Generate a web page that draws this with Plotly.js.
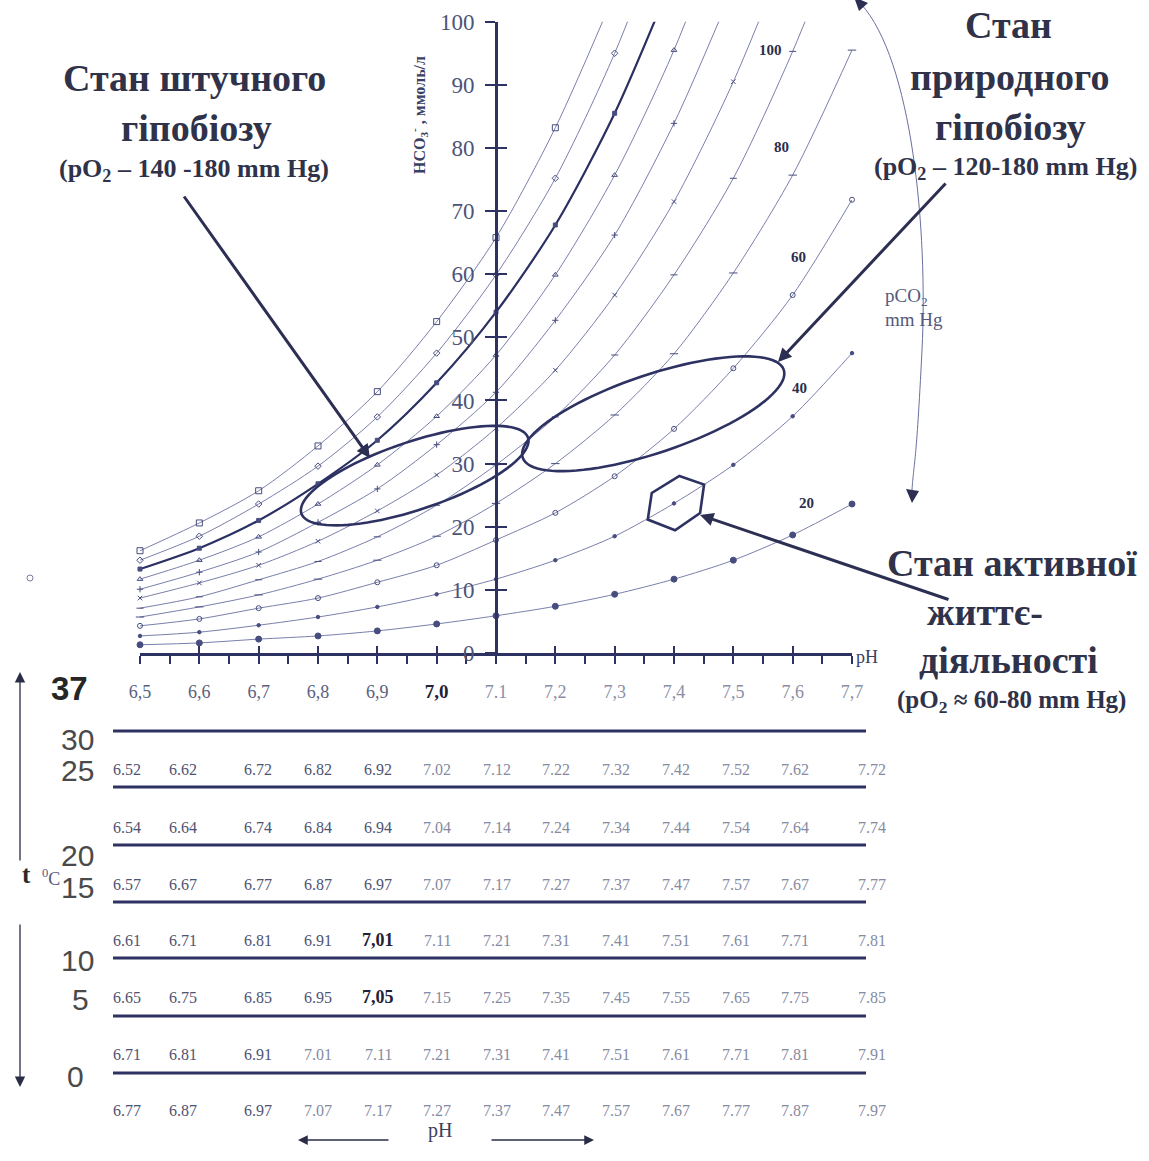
<!DOCTYPE html>
<html><head><meta charset="utf-8">
<script src="https://cdn.plot.ly/plotly-3.0.1.min.js"></script>
<style>html,body{margin:0;padding:0;background:#fff}#chart{width:1149px;height:1161px}</style>
</head><body><div id="chart"></div>
<script>
// ================= DATA =================
const pH = [6.5, 6.6, 6.7, 6.8, 6.9, 7.0, 7.1, 7.2, 7.3, 7.4, 7.5, 7.6, 7.7];
const pCO2 = [20, 40, 60, 80, 100, 120, 140, 160, 180, 200, 220];
// HCO3- (mmol/l) read at each pH step; the last value of the upper isobars lies above 100 (line leaves the frame)
const hco3_20  = [1.3, 1.6, 2.2, 2.7, 3.5, 4.6, 5.9, 7.4, 9.3, 11.7, 14.7, 18.7, 23.6];
const hco3_40  = [2.7, 3.3, 4.4, 5.7, 7.3, 9.3, 11.7, 14.7, 18.5, 23.7, 29.8, 37.5, 47.5];
const hco3_60  = [4.3, 5.4, 7.1, 8.7, 11.2, 13.9, 17.9, 22.2, 28.0, 35.5, 45.1, 56.7, 71.8];
const hco3_80  = [5.7, 7.3, 9.2, 11.7, 14.7, 18.5, 23.7, 30.0, 37.7, 47.4, 60.2, 75.7, 95.5];
const hco3_100 = [7.1, 8.9, 11.6, 14.5, 18.4, 23.4, 29.8, 37.4, 47.2, 59.9, 75.2, 95.3, 119.0];
const hco3_120 = [8.7, 11.1, 13.9, 17.7, 22.5, 28.2, 35.6, 44.8, 56.7, 71.5, 90.5, 113.5];
const hco3_140 = [10.1, 12.8, 16.0, 20.7, 26.0, 33.0, 41.3, 52.7, 66.2, 83.9, 105.5];
const hco3_160 = [11.7, 14.7, 18.4, 23.6, 29.8, 37.5, 47.2, 59.9, 75.7, 95.5, 120.0];
const hco3_180 = [13.3, 16.6, 21.0, 26.8, 33.7, 42.8, 54.0, 67.8, 85.5, 107.5];
const hco3_200 = [14.7, 18.5, 23.6, 29.6, 37.4, 47.5, 59.9, 75.2, 95.0, 119.5];
const hco3_220 = [16.2, 20.6, 25.7, 32.8, 41.4, 52.5, 65.8, 83.2, 104.5];
const isobarLabels = ['20', '40', '60', '80', '100'];

const hco3Ticks = [0, 10, 20, 30, 40, 50, 60, 70, 80, 90, 100];
const pHTickText37 = ['6,5', '6,6', '6,7', '6,8', '6,9', '7,0', '7.1', '7,2', '7,3', '7,4', '7,5', '7,6', '7,7'];

// temperature table
const tempLabels = ['37', '30', '25', '20', '15', '10', '5', '0'];
const pHrow_a = ['6.52','6.62','6.72','6.82','6.92','7.02','7.12','7.22','7.32','7.42','7.52','7.62','7.72'];
const pHrow_b = ['6.54','6.64','6.74','6.84','6.94','7.04','7.14','7.24','7.34','7.44','7.54','7.64','7.74'];
const pHrow_c = ['6.57','6.67','6.77','6.87','6.97','7.07','7.17','7.27','7.37','7.47','7.57','7.67','7.77'];
const pHrow_d = ['6.61','6.71','6.81','6.91','7,01','7.11','7.21','7.31','7.41','7.51','7.61','7.71','7.81'];
const pHrow_e = ['6.65','6.75','6.85','6.95','7,05','7.15','7.25','7.35','7.45','7.55','7.65','7.75','7.85'];
const pHrow_f = ['6.71','6.81','6.91','7.01','7.11','7.21','7.31','7.41','7.51','7.61','7.71','7.81','7.91'];
const pHrow_g = ['6.77','6.87','6.97','7.07','7.17','7.27','7.37','7.47','7.57','7.67','7.77','7.87','7.97'];

// state regions (centre in pH / HCO3-)
const stateArtificial = {pH: 6.963, hco3: 28.1};
const stateNatural = {pH: 7.365, hco3: 37.9};
const stateActive = {pH: 7.404, hco3: 23.8};

// ================= LAYOUT / STYLE =================
const W = 1149, H = 1161;
const PX = x => x / W, PY = y => 1 - y / H;
const X0 = 140, X1 = 852, Y0 = 653, Y1 = 21.7;          // plot frame in px
const pxPerPH = (X1 - X0) / (7.7 - 6.5), pxPerHCO3 = (Y0 - Y1) / 100;
const SERIF = 'Liberation Serif, Times New Roman, serif';
const SANS = 'Liberation Sans, Arial, sans-serif';
const NAVY = '#2e3262', TXT = '#2f3249', GREY = '#555a7c';

const series = [hco3_20, hco3_40, hco3_60, hco3_80, hco3_100, hco3_120, hco3_140, hco3_160, hco3_180, hco3_200, hco3_220];
const symbols = ['circle', 'circle', 'circle-open', 'line-ew-open', 'line-ew-open', 'x-thin-open', 'cross-thin-open', 'triangle-up-open', 'square', 'diamond-open', 'square-open'];
const sizes = [6, 3.5, 5, 6, 5, 4.5, 4.5, 5, 4, 5, 6];

const traces = series.map((v, i) => ({
  type: 'scatter', mode: 'lines+markers', name: 'pCO2 ' + pCO2[i],
  x: pH.slice(0, v.length), y: v,
  line: {shape: 'spline', smoothing: 0.8, color: i === 8 ? '#2b3062' : '#6a70a2', width: i === 8 ? 2.2 : 0.9},
  marker: {symbol: symbols[i], size: sizes[i], color: '#474d7e', line: {width: 1, color: '#474d7e'}},
  cliponaxis: false, hoverinfo: 'skip', showlegend: false
}));
// helper traces so that the crossing-tick overlay axes are drawn
traces.push({type: 'scatter', x: [], y: [], xaxis: 'x2', yaxis: 'y', showlegend: false, hoverinfo: 'skip'});
traces.push({type: 'scatter', x: [], y: [], xaxis: 'x', yaxis: 'y2', showlegend: false, hoverinfo: 'skip'});

const xdom = [PX(X0), PX(X1)], ydom = [PY(Y0), PY(Y1)];
const yPos = PX(X0 + (7.1 - 6.5) * pxPerPH);

const tickText = pHTickText37.map((t, i) => {
  if (t === '7,0') return '<b><span style="color:#1f2238;font-size:19px">' + t + '</span></b>';
  return pH[i] < 7 ? '<span style="color:#5a5f7e">' + t + '</span>' : '<span style="color:#8a8ea6">' + t + '</span>';
});

const shapes = [];
const annotations = [];

// ---- table lines and values ----
const lineY = [731, 787, 845, 902, 958, 1016, 1073];
lineY.forEach(y => shapes.push({type: 'line', xref: 'paper', yref: 'paper', x0: PX(113), x1: PX(866), y0: PY(y), y1: PY(y), line: {color: NAVY, width: 3}}));
const colX = [127, 183, 258, 318, 378, 437, 497, 556, 616, 676, 736, 795, 872];
const rowY = [769, 827, 884, 940, 997, 1054, 1110];
[pHrow_a, pHrow_b, pHrow_c, pHrow_d, pHrow_e, pHrow_f, pHrow_g].forEach((row, r) => {
  row.forEach((t, c) => {
    const bold = t.indexOf(',') >= 0;
    const v = parseFloat(t.replace(',', '.'));
    annotations.push({xref: 'paper', yref: 'paper', x: PX(colX[c]), y: PY(rowY[r]), showarrow: false,
      text: bold ? '<b>' + t + '</b>' : t, xanchor: 'center', yanchor: 'middle',
      font: {family: SERIF, size: bold ? 18 : 16, color: bold ? '#1f2238' : (v < 7 ? '#4e5372' : '#868aa2')}});
  });
});
// temperature labels: [x, y, anchor]
const tempPos = [[69, 688, 'center'], [96, 739, 'right'], [96, 770, 'right'], [96, 855, 'right'], [96, 887, 'right'], [96, 960, 'right'], [80, 999, 'center'], [75, 1076, 'center']];
tempLabels.forEach((t, i) => annotations.push({xref: 'paper', yref: 'paper', x: PX(tempPos[i][0]), y: PY(tempPos[i][1]),
  showarrow: false, xanchor: tempPos[i][2], yanchor: 'middle', text: i === 0 ? '<b>' + t + '</b>' : t,
  font: {family: SANS, size: i === 0 ? 33 : 30, color: i === 0 ? '#262626' : '#4a4a4a'}}));
annotations.push({xref: 'paper', yref: 'paper', x: PX(20), y: PY(890), showarrow: false, text: '<b>t</b>',
  font: {family: SERIF, size: 25, color: '#2a2a2a'}});
annotations.push({xref: 'paper', yref: 'paper', x: PX(40), y: PY(891), showarrow: false, text: '<sup>0</sup>C',
  font: {family: SERIF, size: 18, color: '#555a7c'}});
// vertical temperature arrows
annotations.push({xref: 'paper', yref: 'paper', x: PX(20), y: PY(672), ax: 0, ay: 190, axref: 'pixel', ayref: 'pixel',
  showarrow: true, text: '', arrowhead: 2, arrowsize: 1.6, arrowwidth: 1.3, arrowcolor: '#2a2d45'});
annotations.push({xref: 'paper', yref: 'paper', x: PX(20), y: PY(1087), ax: 0, ay: -164, axref: 'pixel', ayref: 'pixel',
  showarrow: true, text: '', arrowhead: 2, arrowsize: 1.6, arrowwidth: 1.3, arrowcolor: '#2a2d45'});
// bottom pH arrows
annotations.push({xref: 'paper', yref: 'paper', x: PX(298), y: PY(1140), ax: 92, ay: 0, axref: 'pixel', ayref: 'pixel',
  showarrow: true, text: '', arrowhead: 2, arrowsize: 1.5, arrowwidth: 1.3, arrowcolor: '#2a2d45'});
annotations.push({xref: 'paper', yref: 'paper', x: PX(594), y: PY(1140), ax: -104, ay: 0, axref: 'pixel', ayref: 'pixel',
  showarrow: true, text: '', arrowhead: 2, arrowsize: 1.5, arrowwidth: 1.3, arrowcolor: '#2a2d45'});
annotations.push({xref: 'paper', yref: 'paper', x: PX(440), y: PY(1144), showarrow: false, text: 'pH',
  font: {family: SERIF, size: 20, color: '#3c4060'}});

// ---- chart labels ----
annotations.push({xref: 'paper', yref: 'paper', x: PX(880), y: PY(657), showarrow: false, text: 'pH',
  font: {family: SERIF, size: 18, color: '#3c4060'}});
annotations.push({xref: 'paper', yref: 'paper', x: PX(419), y: PY(115), xanchor: 'center', yanchor: 'middle', showarrow: false, textangle: -90,
  text: '<b>НСО<sub>3</sub><sup>-</sup> , ммоль/л</b>', font: {family: SERIF, size: 16, color: '#3a3f66'}});
const isoPos = [[7.624, 23.8], [7.612, 42.0], [7.609, 62.7], [7.582, 80.2], [7.562, 95.5]];
isobarLabels.forEach((t, i) => annotations.push({xref: 'x', yref: 'y', x: isoPos[i][0], y: isoPos[i][1], showarrow: false,
  text: '<b>' + t + '</b>', font: {family: SERIF, size: 15, color: '#2b2e4c'}}));
annotations.push({xref: 'paper', yref: 'paper', x: PX(883), y: PY(283), xanchor: 'left', showarrow: false,
  text: 'pCO<sub>2</sub>', font: {family: SERIF, size: 19, color: GREY}});
annotations.push({xref: 'paper', yref: 'paper', x: PX(883), y: PY(307), xanchor: 'left', showarrow: false,
  text: 'mm Hg', font: {family: SERIF, size: 19, color: GREY}});

const big = (t, x, y, s) => annotations.push({xref: 'paper', yref: 'paper', x: PX(x), y: PY(y), showarrow: false,
  xanchor: 'center', yanchor: 'middle', text: '<b>' + t + '</b>', font: {family: SERIF, size: s, color: TXT}});
big('Стан штучного', 194, 78, 38);
big('гіпобіозу', 196, 128, 38);
big('(pO<sub>2</sub> – 140 -180 mm Hg)', 194, 170, 26);
big('Стан', 1008, 25, 38);
big('природного', 1009, 77, 38);
big('гіпобіозу', 1010, 127, 38);
big('(pO<sub>2</sub> – 120-180 mm Hg)', 1005, 168, 26);
big('Стан активної', 1012, 563, 38);
big('життє-', 985, 612, 38);
big('діяльності', 1008, 660, 38);
big('(pO<sub>2</sub> ≈ 60-80 mm Hg)', 1011, 701, 25);

// thick pointer arrows
const pointer = (tx, ty, ax, ay) => annotations.push({xref: 'paper', yref: 'paper', x: PX(tx), y: PY(ty), ax: ax, ay: ay,
  axref: 'pixel', ayref: 'pixel', showarrow: true, text: '', arrowhead: 2, arrowsize: 0.9, arrowwidth: 3, arrowcolor: '#2c2f52'});
pointer(370, 458, -187, -263);
pointer(778, 362, 169, -180);
pointer(700, 515, 250, 85);

// ---- state shapes (built around data-space centres) ----
function ellipseShape(c, a, b, angDeg) {
  const al = angDeg * Math.PI / 180, ux = Math.cos(al), uy = -Math.sin(al), nx = Math.sin(al), ny = Math.cos(al);
  let d = '';
  for (let k = 0; k <= 96; k++) {
    const t = 2 * Math.PI * k / 96;
    const dx = a * Math.cos(t) * ux + b * Math.sin(t) * nx;
    const dy = a * Math.cos(t) * uy + b * Math.sin(t) * ny;
    const xx = c.pH + dx / pxPerPH, yy = c.hco3 - dy / pxPerHCO3;
    d += (k === 0 ? 'M' : 'L') + xx.toFixed(5) + ',' + yy.toFixed(4) + ' ';
  }
  return {type: 'path', xref: 'x', yref: 'y', path: d + 'Z', line: {color: NAVY, width: 2.6}};
}
shapes.push(ellipseShape(stateArtificial, 119.5, 34, 18.5));
shapes.push(ellipseShape(stateNatural, 137.7, 39, 18.6));
const hexOff = [[3, -26.8], [27.7, -18.2], [23.7, 10.2], [-1.3, 27.5], [-28.6, 16.8], [-24.6, -9.8]];
shapes.push({type: 'path', xref: 'x', yref: 'y', line: {color: NAVY, width: 2.6},
  path: hexOff.map((o, k) => (k ? 'L' : 'M') + (stateActive.pH + o[0] / pxPerPH).toFixed(5) + ',' + (stateActive.hco3 - o[1] / pxPerHCO3).toFixed(4)).join(' ') + ' Z'});

// curved pCO2 direction arrow (paper coords)
const P = (x, y) => PX(x).toFixed(5) + ',' + PY(y).toFixed(5);
shapes.push({type: 'path', xref: 'paper', yref: 'paper', line: {color: '#6a6f9e', width: 1},
  path: 'M' + P(861, 4) + ' C' + P(912, 60) + ' ' + P(928, 230) + ' ' + P(922, 350) + ' S' + P(914, 460) + ' ' + P(912, 490)});
shapes.push({type: 'path', xref: 'paper', yref: 'paper', line: {width: 0}, fillcolor: '#2c2f52',
  path: 'M' + P(854, -3) + ' L' + P(868, 3) + ' L' + P(859, 11) + ' Z'});
shapes.push({type: 'path', xref: 'paper', yref: 'paper', line: {width: 0}, fillcolor: '#2c2f52',
  path: 'M' + P(906, 489) + ' L' + P(919, 491) + ' L' + P(912, 503) + ' Z'});
// small stray circle at left
shapes.push({type: 'circle', xref: 'paper', yref: 'paper', x0: PX(27), x1: PX(33), y0: PY(581), y1: PY(575), line: {color: '#7a7e9e', width: 1}});

const axisCommon = {showgrid: false, zeroline: false, fixedrange: true};
const layout = {
  width: W, height: H, margin: {l: 0, r: 0, t: 0, b: 0}, paper_bgcolor: '#fff', plot_bgcolor: 'rgba(0,0,0,0)',
  showlegend: false,
  xaxis: Object.assign({}, axisCommon, {domain: xdom, range: [6.5, 7.7], anchor: 'y', showline: true, linecolor: NAVY, linewidth: 2.5,
    ticks: 'outside', ticklen: 8, tickwidth: 2, tickcolor: NAVY, tickmode: 'array', tickvals: pH, ticktext: tickText,
    tickfont: {family: SERIF, size: 18, color: '#5a5f7e'}, ticklabelstandoff: 13,
    minor: {tick0: 6.55, dtick: 0.1, ticks: 'outside', ticklen: 8, tickwidth: 2, tickcolor: NAVY, showgrid: false}}),
  xaxis2: Object.assign({}, axisCommon, {domain: xdom, range: [6.5, 7.7], anchor: 'y', overlaying: 'x', showline: false,
    ticks: 'inside', ticklen: 7, tickwidth: 2, tickcolor: NAVY, tickmode: 'array', tickvals: pH, showticklabels: false}),
  yaxis: Object.assign({}, axisCommon, {domain: ydom, range: [0, 100], anchor: 'free', position: yPos, showline: true, linecolor: NAVY, linewidth: 2.5,
    ticks: 'outside', ticklen: 10, tickwidth: 2, tickcolor: NAVY, tickmode: 'array', tickvals: hco3Ticks,
    tickfont: {family: SERIF, size: 23, color: '#4e5378'}, ticklabelstandoff: 6}),
  yaxis2: Object.assign({}, axisCommon, {domain: ydom, range: [0, 100], anchor: 'free', position: yPos, overlaying: 'y', showline: false,
    ticks: 'inside', ticklen: 10, tickwidth: 2, tickcolor: NAVY, tickmode: 'array', tickvals: hco3Ticks, showticklabels: false}),
  shapes: shapes, annotations: annotations
};
Plotly.newPlot('chart', traces, layout, {staticPlot: true, displayModeBar: false});
</script></body></html>
